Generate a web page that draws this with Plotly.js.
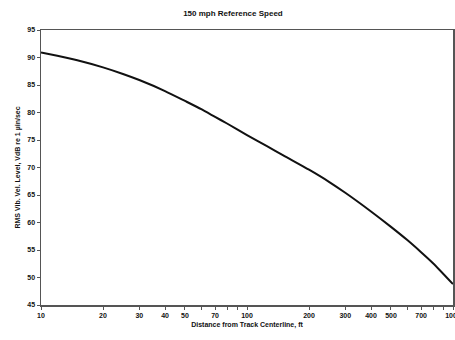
<!DOCTYPE html>
<html>
<head>
<meta charset="utf-8">
<script src="https://cdn.plot.ly/plotly-3.0.1.min.js"></script>
<style>html,body{margin:0;padding:0;background:#fff}#chart{width:455px;height:340px}</style>
</head>
<body>
<div id="chart"></div>
<script>
const distanceFt = [10, 12, 15, 20, 25, 30, 40, 50, 60, 70, 80, 100, 125, 150, 200, 250, 300, 400, 500, 600, 700, 800, 1000];
const vibLevelVdB = [90.9, 90.3, 89.5, 88.2, 87.0, 85.9, 83.9, 82.1, 80.6, 79.2, 78.0, 75.9, 73.9, 72.2, 69.6, 67.4, 65.4, 62.0, 59.2, 56.8, 54.6, 52.6, 48.8];
const xTickVals = [10,20,30,40,50,60,70,80,90,100,200,300,400,500,600,700,800,900,1000];
const xTickText = ['10','20','30','40','50','','70','','','100','200','300','400','500','','700','','','1000'];
const yTickVals = [45,50,55,60,65,70,75,80,85,90,95];

const font = {family: 'Liberation Sans, Arial, sans-serif', size: 7, color: '#111', weight: 'bold'};

Plotly.newPlot('chart', [{
  x: distanceFt, y: vibLevelVdB, type: 'scatter', mode: 'lines',
  line: {color: '#111', width: 2, shape: 'spline', smoothing: 0.6}
}], {
  width: 455, height: 340,
  margin: {l: 41, r: 2, t: 30, b: 35},
  paper_bgcolor: '#fff', plot_bgcolor: '#fff',
  showlegend: false,
  font: font,
  title: {text: '150 mph Reference Speed', x: 0.512, xanchor: 'center', y: 0.96, yanchor: 'middle',
          font: {family: 'Liberation Sans, Arial, sans-serif', size: 8, color: '#111', weight: 'bold'}},
  xaxis: {
    type: 'log', range: [1, 3], tickmode: 'array', tickvals: xTickVals, ticktext: xTickText,
    showgrid: false, zeroline: false, showline: true, linecolor: '#555', linewidth: 1.5, mirror: true,
    ticks: 'outside', ticklen: 3, tickcolor: '#555', tickfont: font, ticklabeloverflow: 'allow',
    title: {text: 'Distance from Track Centerline, ft', standoff: 4, font: font}
  },
  yaxis: {
    range: [45, 95], tickmode: 'array', tickvals: yTickVals,
    showgrid: false, zeroline: false, showline: true, linecolor: '#555', linewidth: 1.5, mirror: true,
    ticks: 'outside', ticklen: 3, tickcolor: '#555', tickfont: font,
    title: {text: 'RMS Vib. Vel. Level, VdB re 1 µin/sec', standoff: 6, font: font}
  }
}, {staticPlot: true});
</script>
</body>
</html>
